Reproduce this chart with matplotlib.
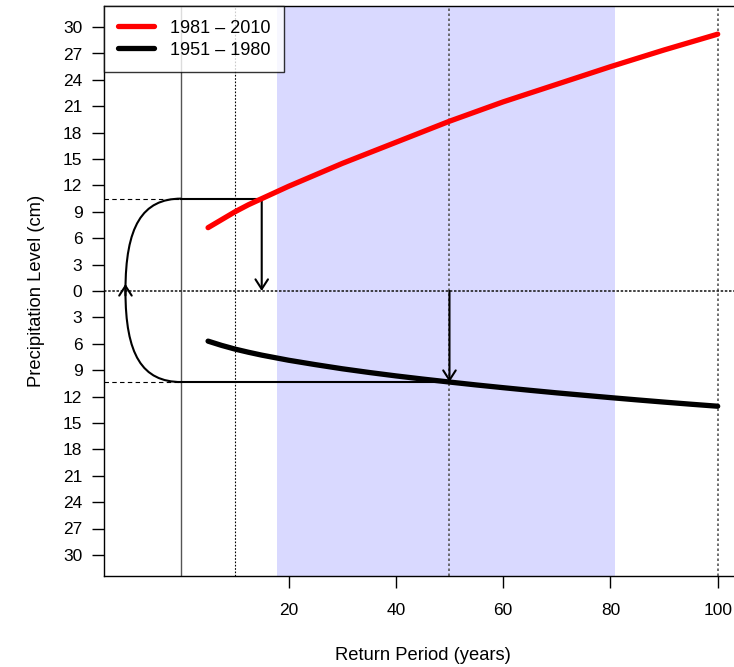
import matplotlib
matplotlib.use("Agg")
import matplotlib.pyplot as plt
from matplotlib.patches import FancyArrowPatch, PathPatch
from matplotlib.path import Path

plt.rcParams['font.family'] = ['Liberation Sans', 'DejaVu Sans']

# ---- data ----
return_period = [5, 7.5, 10, 12.5, 15, 20, 25, 30, 35, 40, 45, 50, 55, 60, 65, 70,
                 75, 80, 85, 90, 95, 100]
level_1981_2010 = [7.2, 8.1, 9.0, 9.8, 10.5, 11.9, 13.2, 14.5, 15.7, 16.9, 18.1, 19.3,
                   20.4, 21.5, 22.5, 23.5, 24.5, 25.5, 26.45, 27.4, 28.3, 29.2]
level_1951_1980 = [5.7, 6.18, 6.6, 6.96, 7.29, 7.87, 8.37, 8.84, 9.26, 9.65, 10.01, 10.35,
                   10.68, 10.99, 11.29, 11.58, 11.85, 12.12, 12.38, 12.63, 12.87, 13.1]
series_labels = ["1981 \u2013 2010", "1951 \u2013 1980"]

y_ticks = list(range(-30, 31, 3))
x_ticks = [20, 40, 60, 80, 100]
shade_range = (17.8, 80.8)
ref_lines_x = [10, 50, 100]
new_rp, new_level = 15, 10.5      # 1981-2010 return period for the reference level
old_rp, old_level = 50, 10.35     # 1951-1980 return period / level

fig = plt.figure(figsize=(7.34, 6.67), dpi=100)
ax = fig.add_axes([104/734, (667-576)/667, (741.3-104)/734, (576-6)/667])
ax.set_xlim(-14.4, 104.4)
ax.set_ylim(-32.4, 32.4)

# shaded band
ax.axvspan(*shade_range, color='#D9D9FF', lw=0, zorder=0)

# reference lines
ax.axvline(0, color='#555555', lw=1.0, zorder=1)
ax.axvline(ref_lines_x[0], color='black', lw=0.8, ls=(0, (1.5, 1.5)), zorder=1)
for xv in ref_lines_x[1:]:
    ax.axvline(xv, color='#555555', lw=1.2, ls=(0, (1.5, 1.5)), zorder=1)
ax.axhline(0, color='#222222', lw=1.2, ls=(0, (1.5, 1.0)), zorder=1)

# dashed level lines on the left
xl = ax.get_xlim()[0]
ax.plot([xl, 0], [new_level, new_level], color='black', lw=0.8, ls=(0, (4, 3)), zorder=2)
ax.plot([xl, 0], [-old_level, -old_level], color='black', lw=0.8, ls=(0, (4, 3)), zorder=2)

# solid connectors
ax.plot([0, new_rp], [new_level, new_level], color='black', lw=1.5, zorder=3)
ax.plot([0, old_rp], [-old_level, -old_level], color='black', lw=1.5, zorder=3)

arrow_kw = dict(arrowstyle='->,head_length=7,head_width=4.5', mutation_scale=1,
                color='black', lw=1.5, shrinkA=0, shrinkB=0, zorder=4)
ax.add_patch(FancyArrowPatch((new_rp, new_level), (new_rp, 0), **arrow_kw))
ax.add_patch(FancyArrowPatch((old_rp, 0), (old_rp, -old_level), **arrow_kw))

# curved bracket on the left
a = 10.4
k = 0.7
verts = [(0, -old_level), (-k*a, -old_level), (-a, -k*old_level), (-a, 0),
         (-a, k*new_level), (-k*a, new_level), (0, new_level)]
codes = [Path.MOVETO, Path.CURVE4, Path.CURVE4, Path.CURVE4,
         Path.CURVE4, Path.CURVE4, Path.CURVE4]
ax.add_patch(PathPatch(Path(verts, codes), fill=False, color='black', lw=1.5, zorder=3))
ax.add_patch(FancyArrowPatch((-a, -0.5), (-a, 0.8), **arrow_kw))

# series
neg_old = [-v for v in level_1951_1980]
ax.plot(return_period, level_1981_2010, color='red', lw=3.8, solid_capstyle='round',
        solid_joinstyle='round', zorder=5, label=series_labels[0])
ax.plot(return_period, neg_old, color='black', lw=3.8, solid_capstyle='round',
        solid_joinstyle='round', zorder=5, label=series_labels[1])

# axes
ax.set_xticks(x_ticks)
ax.set_xticklabels([str(v) for v in x_ticks])
ax.set_yticks(y_ticks)
ax.set_yticklabels([str(abs(v)) for v in y_ticks])
ax.tick_params(axis='both', direction='out', length=8.5, width=1, labelsize=12.5, colors='black')
ax.tick_params(axis='x', pad=11)
ax.tick_params(axis='y', pad=7)
for s in ax.spines.values():
    s.set_linewidth(1.0)

ax.set_xlabel("Return Period (years)", fontsize=13.2, labelpad=21)
ax.set_ylabel("Precipitation Level (cm)", fontsize=13.2, labelpad=13)

leg = ax.legend(loc='upper left', bbox_to_anchor=(0, 1), borderaxespad=0,
                fontsize=13, frameon=True, fancybox=False, handlelength=2.0,
                handletextpad=0.9, borderpad=0.75, labelspacing=0.28)
leg.get_frame().set_edgecolor('black')
leg.get_frame().set_linewidth(1.0)
leg.set_zorder(10)

fig.savefig("out.png", dpi=100)
